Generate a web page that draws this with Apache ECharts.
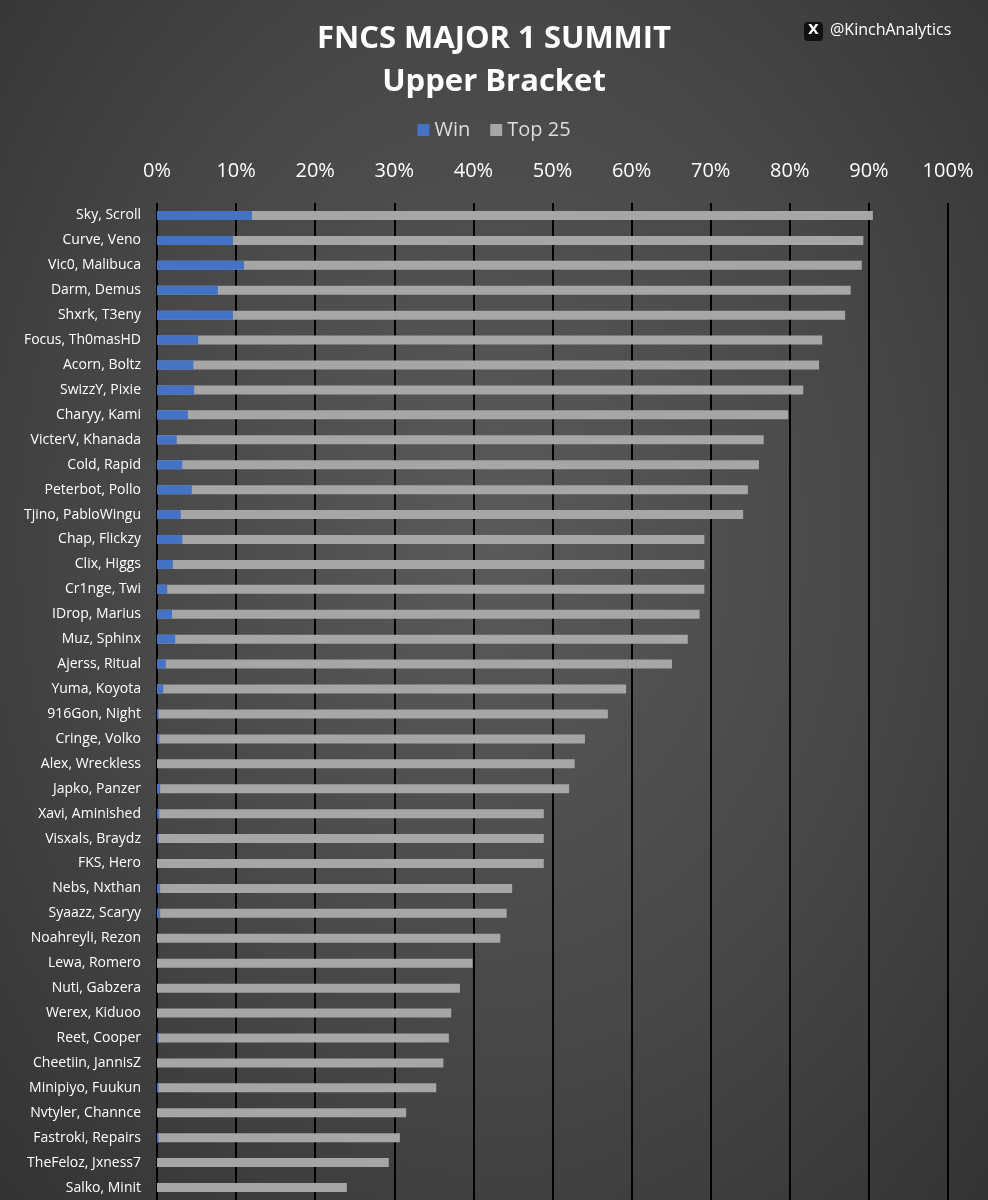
<!DOCTYPE html>
<html>
<head>
<meta charset="utf-8">
<script src="https://cdn.jsdelivr.net/npm/echarts@6/dist/echarts.min.js"></script>
<style>
  html, body { margin: 0; padding: 0; }
  #chart { width: 988px; height: 1200px; background: radial-gradient(ellipse at 50% 45%, #5a5a5a 0%, #474747 55%, #333 100%); }
</style>
</head>
<body>
<div id="chart"></div>
<script>
let teams = ['Sky, Scroll','Curve, Veno','Vic0, Malibuca','Darm, Demus','Shxrk, T3eny','Focus, Th0masHD','Acorn, Boltz','SwizzY, Pixie','Charyy, Kami','VicterV, Khanada','Cold, Rapid','Peterbot, Pollo','Tjino, PabloWingu','Chap, Flickzy','Clix, Higgs','Cr1nge, Twi','IDrop, Marius','Muz, Sphinx','Ajerss, Ritual','Yuma, Koyota','916Gon, Night','Cringe, Volko','Alex, Wreckless','Japko, Panzer','Xavi, Aminished','Visxals, Braydz','FKS, Hero','Nebs, Nxthan','Syaazz, Scaryy','Noahreyli, Rezon','Lewa, Romero','Nuti, Gabzera','Werex, Kiduoo','Reet, Cooper','Cheetiin, JannisZ','Minipiyo, Fuukun','Nvtyler, Channce','Fastroki, Repairs','TheFeloz, Jxness7','Salko, Minit'];
let top25 = [90.5,89.3,89.1,87.7,87.0,84.1,83.7,81.7,79.8,76.7,76.1,74.7,74.1,69.2,69.2,69.2,68.6,67.1,65.1,59.3,57.0,54.1,52.8,52.1,48.9,48.9,48.9,44.9,44.2,43.4,39.9,38.3,37.2,36.9,36.2,35.3,31.5,30.7,29.3,24.0];
let win = [12.0,9.6,11.0,7.7,9.6,5.2,4.6,4.7,3.9,2.5,3.2,4.4,3.0,3.2,2.0,1.3,1.9,2.3,1.1,0.8,0.2,0.3,0,0.4,0.3,0.2,0,0.4,0.4,0,0,0,0,0.2,0,0.2,0,0.2,0,0];

let chart = echarts.init(document.getElementById('chart'));
const option = {
  title: {
    text: 'FNCS MAJOR 1 SUMMIT\nUpper Bracket',
    left: 'center',
    top: 13,
    textStyle: { color: '#fff', fontSize: 31, fontWeight: 'bold', fontFamily: 'Open Sans', lineHeight: 43 }
  },
  legend: {
    top: 115,
    left: 'center',
    itemWidth: 12, itemHeight: 12, itemGap: 20,
    icon: 'rect',
    textStyle: { color: '#ddd', fontSize: 20, fontFamily: 'Open Sans' },
    data: ['Win', 'Top 25']
  },
  graphic: [
    { type: 'rect', left: 804, top: 22, shape: { width: 19, height: 19, r: 4 }, style: { fill: '#111' } },
    { type: 'text', left: 808, top: 23, style: { text: 'X', fill: '#fff', font: 'bold 14px DejaVu Sans' } },
    { type: 'text', left: 830, top: 22, style: { text: '@KinchAnalytics', fill: '#fff', font: '16px Open Sans' } }
  ],
  grid: { left: 157, right: 40, top: 203, height: 1000 },
  xAxis: {
    type: 'value', position: 'top', min: 0, max: 100, interval: 10,
    axisLabel: { color: '#fff', fontSize: 20, fontFamily: 'Open Sans', formatter: '{value}%', margin: 22 },
    axisLine: { show: false }, axisTick: { show: false },
    splitLine: { lineStyle: { color: '#000', width: 2 } }
  },
  yAxis: {
    type: 'category', inverse: true, data: teams,
    axisLabel: { color: '#fff', fontSize: 14, fontFamily: 'Open Sans', margin: 16 },
    axisLine: { show: false }, axisTick: { show: false }
  },
  series: [
    { name: 'Top 25', type: 'bar', data: top25, barWidth: 9, itemStyle: { color: '#a6a6a6' }, barGap: '-100%', animation: false },
    { name: 'Win', type: 'bar', data: win, barWidth: 9, itemStyle: { color: '#4472c4' }, animation: false }
  ]
};
chart.setOption(option);
</script>
</body>
</html>
